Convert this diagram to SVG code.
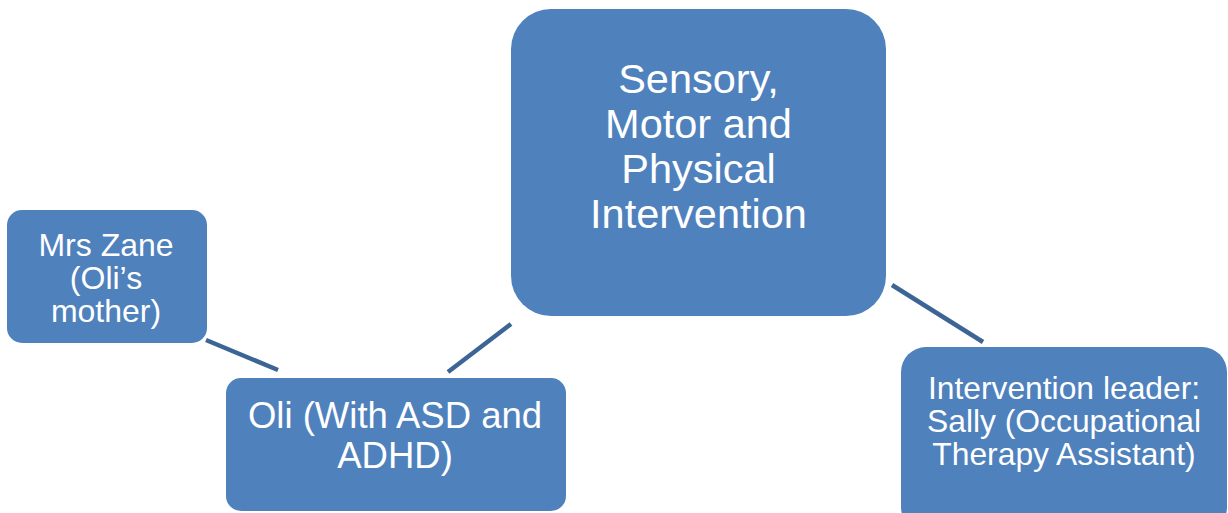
<svg xmlns="http://www.w3.org/2000/svg" width="1228" height="513" viewBox="0 0 1228 513">
<style>
.box{fill:#4F81BD;}
.lbl{fill:#FFFFFF;font-family:"Liberation Sans",Arial,sans-serif;text-anchor:middle;}
.conn{stroke:#3C6596;stroke-width:4.5;fill:none;}
</style>
<rect width="1228" height="513" fill="#FFFFFF"/>
<g id="connectors">
<line class="conn" x1="206" y1="340" x2="278" y2="370"/>
<line class="conn" x1="448" y1="372" x2="511" y2="324"/>
<line class="conn" x1="892" y1="285" x2="983" y2="342"/>
</g>
<g id="node-center">
<rect class="box" x="511" y="9" width="375" height="307" rx="40" ry="40"/>
<text class="lbl" font-size="41.5"><tspan x="698.5" y="93">Sensory,</tspan><tspan x="698.5" y="138">Motor and</tspan><tspan x="698.5" y="183">Physical</tspan><tspan x="698.5" y="228">Intervention</tspan></text>
</g>
<g id="node-mrszane">
<rect class="box" x="7" y="210" width="200" height="133" rx="15" ry="15"/>
<text class="lbl" font-size="32"><tspan x="106" y="256">Mrs Zane</tspan><tspan x="106" y="289">(Oli’s</tspan><tspan x="106" y="322">mother)</tspan></text>
</g>
<g id="node-oli">
<rect class="box" x="226" y="378" width="340" height="133" rx="15" ry="15"/>
<text class="lbl" font-size="36.5"><tspan x="395" y="428">Oli (With ASD and</tspan><tspan x="395" y="468">ADHD)</tspan></text>
</g>
<g id="node-sally">
<rect class="box" x="901" y="347" width="326" height="185" rx="25" ry="25"/>
<text class="lbl" font-size="31.8"><tspan x="1064" y="399">Intervention leader:</tspan><tspan x="1064" y="432">Sally (Occupational</tspan><tspan x="1064" y="465">Therapy Assistant)</tspan></text>
</g>
</svg>
